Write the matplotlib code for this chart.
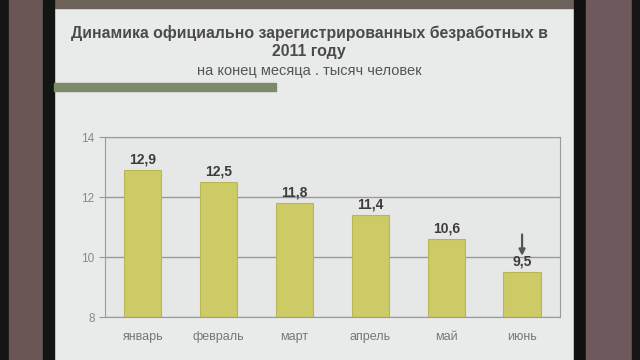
import matplotlib.pyplot as plt
from matplotlib.patches import Rectangle

months = ["январь", "февраль", "март", "апрель", "май", "июнь"]
values = [12.9, 12.5, 11.8, 11.4, 10.6, 9.5]
yticks = [8, 10, 12, 14]

title1 = "Динамика официально зарегистрированных безработных в"
title2 = "2011 году"
title3 = "на конец месяца . тысяч человек"

plt.rcParams['font.family'] = ['Liberation Sans', 'DejaVu Sans']

fig = plt.figure(figsize=(6.4, 3.6), dpi=100)
fig.patch.set_facecolor('#e9ebea')

# photo frame around the slide
def px_rect(x0, y0, x1, y1, color):
    fig.patches.append(Rectangle((x0 / 640, 1 - y1 / 360), (x1 - x0) / 640, (y1 - y0) / 360,
                                 transform=fig.transFigure, color=color, zorder=0))

px_rect(0, 0, 640, 8, '#6d625a')
px_rect(0, 0, 9, 360, '#141414')
px_rect(9, 0, 43, 360, '#6b5656')
px_rect(43, 0, 54, 360, '#121612')
px_rect(574, 0, 586, 360, '#111111')
px_rect(586, 0, 632, 360, '#6e5a5c')
px_rect(632, 0, 640, 360, '#161616')
# green bar under the title
px_rect(54, 83, 276, 91, '#7b8a6a')

fig.text(0.483, 0.908, title1, ha='center', va='center', fontsize=11.4,
         fontweight='bold', color='#4a4a4a')
fig.text(0.483, 0.856, title2, ha='center', va='center', fontsize=11.4,
         fontweight='bold', color='#4a4a4a')
fig.text(0.483, 0.803, title3, ha='center', va='center', fontsize=10.5,
         color='#555555')

ax = fig.add_axes([0.164, 0.119, 0.711, 0.5])
ax.set_facecolor('#e6e8e7')
x = range(len(months))
ax.bar(x, [v - 8 for v in values], bottom=8, width=0.49, color='#cdcb66',
       edgecolor='#b9b655', linewidth=0.8, zorder=2)
for i, v in enumerate(values):
    ax.text(i, v + 0.12, f"{v:.1f}".replace('.', ','), ha='center', va='bottom',
            fontsize=10, fontweight='bold', color='#3c3c3c', zorder=3)

# arrow over the last bar
ax.annotate('', xy=(5, 9.95), xytext=(5, 10.85),
            arrowprops=dict(arrowstyle='-|>', color='#555555', lw=1.6, mutation_scale=9))

ax.set_ylim(8, 14)
ax.set_xlim(-0.5, len(months) - 0.5)
ax.set_yticks(yticks)
ax.set_xticks(list(x))
ax.set_xticklabels(months)
ax.tick_params(axis='y', labelsize=8.5, labelcolor='#888888', color='#999999', length=4)
ax.tick_params(axis='x', labelsize=9, labelcolor='#777777', length=0, pad=10)
ax.grid(axis='y', color='#9a9a9a', linewidth=1.0, zorder=1)
for s in ax.spines.values():
    s.set_color('#9a9a9a')

fig.savefig('out.png', dpi=100, facecolor=fig.get_facecolor())
